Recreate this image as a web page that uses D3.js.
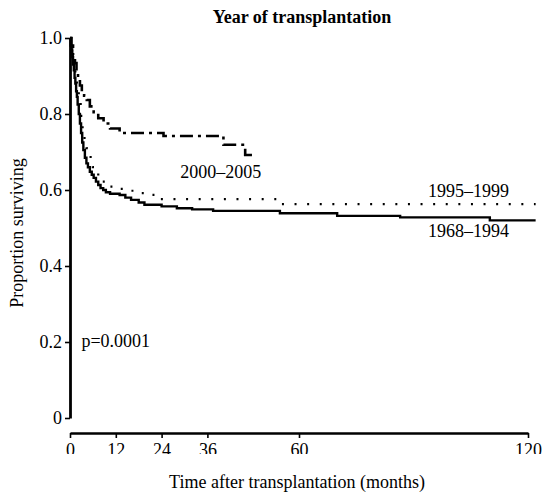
<!DOCTYPE html>
<html>
<head>
<meta charset="utf-8">
<script src="https://cdn.jsdelivr.net/npm/d3@7"></script>
<style>
  body { margin: 0; background: #fff; }
  text { font-family: "Liberation Serif", "Times New Roman", serif; fill: #000; }
</style>
</head>
<body>
<div id="app"></div>
<script>
// survival steps [months, proportion]
const era1968 = [
  [0, 1.0], [0.2, 0.98], [0.4, 0.965], [0.6, 0.95], [0.8, 0.93], [1.0, 0.915],
  [1.2, 0.895], [1.4, 0.88], [1.6, 0.86], [1.8, 0.845], [2.0, 0.825], [2.3, 0.8],
  [2.6, 0.775], [2.9, 0.75], [3.2, 0.725], [3.5, 0.705], [3.9, 0.685], [4.3, 0.67],
  [4.7, 0.66], [5.2, 0.648], [5.7, 0.64], [6.2, 0.632], [6.8, 0.622], [7.4, 0.613],
  [8.0, 0.605], [8.7, 0.6], [9.4, 0.594], [10.5, 0.59], [13.0, 0.587],
  [14.5, 0.58], [16.0, 0.574], [18.0, 0.567], [19.5, 0.561], [24.0, 0.557],
  [28.0, 0.552], [32.0, 0.549], [37.5, 0.545], [55.0, 0.539], [70.0, 0.532],
  [86.5, 0.528], [110.0, 0.52], [122.0, 0.52]
];
const era1995 = [
  [0, 1.0], [0.3, 0.975], [0.6, 0.955], [1.0, 0.925], [1.4, 0.895], [1.8, 0.865],
  [2.3, 0.83], [2.8, 0.795], [3.3, 0.76], [3.8, 0.73], [4.3, 0.71], [4.8, 0.69],
  [5.4, 0.675], [6.0, 0.66], [6.7, 0.645], [7.4, 0.632], [8.2, 0.622], [9.2, 0.614],
  [10.5, 0.609], [13.0, 0.603], [15.7, 0.598], [17.5, 0.592], [20.0, 0.587],
  [23.5, 0.576], [54.2, 0.563], [122.0, 0.563]
];
const era2000 = [
  [0, 1.0], [0.4, 0.98], [0.8, 0.955], [1.3, 0.934], [1.7, 0.91], [2.1, 0.89],
  [2.6, 0.875], [3.1, 0.859], [3.7, 0.848], [4.4, 0.837], [5.2, 0.82], [6.2, 0.805],
  [7.4, 0.789], [8.8, 0.775], [10.5, 0.762], [13.0, 0.75], [24.5, 0.742],
  [40.2, 0.719], [45.9, 0.692], [48.1, 0.692]
];

const xTicks = [0, 12, 24, 36, 60, 120];
const yTicks = [0, 0.2, 0.4, 0.6, 0.8, 1.0];
const yTickLabels = ['0', '0.2', '0.4', '0.6', '0.8', '1.0'];

const width = 543;
const height = 496;
const serif = '"Liberation Serif", "Times New Roman", serif';

const xScale = d3.scaleLinear().domain([0, 120]).range([70, 528]);
const yScale = d3.scaleLinear().domain([0, 1]).range([418, 38]);

const svg = d3.select('#app')
  .append('svg')
  .attr('width', width)
  .attr('height', height);

// title
svg.append('text')
  .attr('x', 302)
  .attr('y', 23)
  .attr('text-anchor', 'middle')
  .style('font-size', '18px')
  .style('font-weight', 'bold')
  .text('Year of transplantation');

// y axis
const yAxis = svg.append('g')
  .attr('transform', 'translate(70,0)')
  .call(d3.axisLeft(yScale).tickValues(yTicks)
    .tickFormat((d, i) => yTickLabels[i])
    .tickSize(5).tickSizeOuter(0).tickPadding(3))
  .attr('font-family', serif)
  .attr('font-size', 18);
yAxis.select('.domain').attr('stroke', '#000').attr('stroke-width', 2.8);
yAxis.selectAll('.tick line').attr('stroke', '#000').attr('stroke-width', 1.6);

// x axis (sits a bit below the y axis end); labels are cut at the bottom in the original
svg.append('clipPath').attr('id', 'xclip')
  .append('rect').attr('x', 0).attr('y', -20).attr('width', width).attr('height', 41);

const xAxis = svg.append('g')
  .attr('transform', 'translate(0,433)')
  .call(d3.axisBottom(xScale).tickValues(xTicks)
    .tickSize(5).tickSizeOuter(0).tickPadding(5))
  .attr('font-family', serif)
  .attr('font-size', 18)
  .attr('clip-path', 'url(#xclip)');
xAxis.select('.domain').attr('stroke', '#000').attr('stroke-width', 2.6);
xAxis.selectAll('.tick line').attr('stroke', '#000').attr('stroke-width', 1.6);

// axis titles
svg.append('text')
  .attr('x', 297)
  .attr('y', 488)
  .attr('text-anchor', 'middle')
  .style('font-size', '18px')
  .text('Time after transplantation (months)');

svg.append('text')
  .attr('transform', 'translate(23,233) rotate(-90)')
  .attr('text-anchor', 'middle')
  .style('font-size', '18px')
  .text('Proportion surviving');

// curves
const line = d3.line()
  .x(d => xScale(d[0]))
  .y(d => yScale(d[1]))
  .curve(d3.curveStepAfter);

svg.append('path')
  .datum(era1995)
  .attr('d', line)
  .attr('fill', 'none')
  .attr('stroke', '#000')
  .attr('stroke-width', 2.2)
  .attr('stroke-dasharray', '2,10.6');

svg.append('path')
  .datum(era2000)
  .attr('d', line)
  .attr('fill', 'none')
  .attr('stroke', '#000')
  .attr('stroke-width', 2.6)
  .attr('stroke-dasharray', '13,5,3,5');

svg.append('path')
  .datum(era1968)
  .attr('d', line)
  .attr('fill', 'none')
  .attr('stroke', '#000')
  .attr('stroke-width', 2.4);

// curve labels
const labels = [
  { text: '2000\u20132005', t: 28.9, v: 0.632 },
  { text: '1995\u20131999', t: 93.8, v: 0.582 },
  { text: '1968\u20131994', t: 93.8, v: 0.476 },
  { text: 'p=0.0001', t: 3.0, v: 0.187 }
];

svg.selectAll('.curve-label')
  .data(labels)
  .enter()
  .append('text')
  .attr('class', 'curve-label')
  .attr('x', d => xScale(d.t))
  .attr('y', d => yScale(d.v))
  .style('font-size', '18px')
  .text(d => d.text);
</script>
</body>
</html>
